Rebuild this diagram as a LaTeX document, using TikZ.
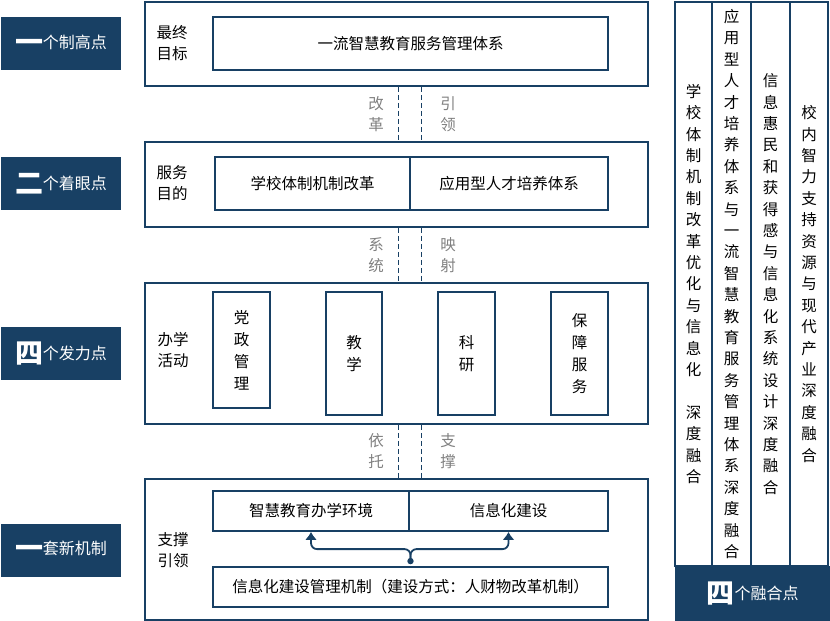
\documentclass[tikz,border=0pt]{standalone}
\usepackage{fontspec}
\newfontfamily\cjk{Noto Sans CJK SC}
\usetikzlibrary{arrows.meta,calc}
\XeTeXlinebreaklocale "zh"
\XeTeXlinebreakskip=0pt plus 1pt
\definecolor{navy}{RGB}{24,64,100}
\definecolor{labelgray}{RGB}{128,128,128}
\newcommand{\bignum}[1]{\raisebox{-4pt}{\fontsize{28}{28}\selectfont\bfseries #1}}

\begin{document}
\begin{tikzpicture}[x=1pt, y=-1pt,
  badge/.style={fill=navy, text=white, minimum width=120pt, minimum height=53pt, inner sep=0pt, font=\cjk\fontsize{16}{16}\selectfont},
  panel/.style={draw=navy, line width=1.8pt, minimum width=503pt, inner sep=0pt},
  item/.style={draw=navy, line width=1.8pt, inner sep=0pt, font=\cjk\fontsize{15.5}{22}\selectfont},
  upright/.style={text width=16pt, align=center},
  tag/.style={font=\cjk\fontsize{15.5}{21}\selectfont, align=left, inner sep=0pt},
  side/.style={font=\cjk\fontsize{15.5}{21}\selectfont, text=labelgray, align=center, inner sep=0pt},
  link/.style={draw=navy, line width=1.8pt, dash pattern=on 5pt off 3pt},
  column/.style={draw=navy, line width=1.8pt, minimum height=564pt, inner sep=0pt},
  coltext/.style={font=\cjk\fontsize{15.5}{21.4}\selectfont, text width=16pt, align=center, inner sep=0pt},
  flow/.style={draw=navy, line width=1.8pt, rounded corners=6pt, -{Latex[length=8pt,width=12pt]}}]
  \useasboundingbox (0,0) rectangle (830,621);

  \node[badge] (b1) at (61,43.5) {\bignum{一}个制高点};
  \node[badge] (b2) at (61,183.5) {\bignum{二}个着眼点};
  \node[badge] (b3) at (61,353.5) {\bignum{四}个发力点};
  \node[badge] (b4) at (61,550) {\bignum{一}套新机制};

  \node[panel, minimum height=84pt] (p1) at (396.5,44) {};
  \node[tag] (t1) at (172,43) {最终\\目标};
  \node[item, minimum width=395pt, minimum height=53pt] (goal) at (410.5,43.5) {一流智慧教育服务管理体系};

  \node[panel, minimum height=85pt] (p2) at (396.5,184.5) {};
  \node[tag] (t2) at (172,183.5) {服务\\目的};
  \node[item, minimum width=195pt, minimum height=53pt] (reform) at (312.5,183.5) {学校体制机制改革};
  \node[item, minimum width=198pt, minimum height=53pt] (talent) at (509,183.5) {应用型人才培养体系};

  \node[panel, minimum height=141pt] (p3) at (396.5,353.5) {};
  \node[tag] (t3) at (173,350) {办学\\活动};
  \node[item, upright, minimum width=57pt, minimum height=116pt] (party) at (241.5,350) {党政管理};
  \node[item, upright, minimum width=56pt, minimum height=123pt] (teach) at (354,353.5) {教学};
  \node[item, upright, minimum width=57pt, minimum height=123pt] (research) at (466.5,353.5) {科研};
  \node[item, upright, minimum width=57pt, minimum height=123pt] (support) at (579.5,353.5) {保障服务};

  \node[panel, minimum height=141pt] (p4) at (396.5,549.5) {};
  \node[tag] (t4) at (173,550) {支撑\\引领};
  \node[item, minimum width=196pt, minimum height=40pt] (env) at (311,511) {智慧教育办学环境};
  \node[item, minimum width=199pt, minimum height=40pt] (ict) at (508.5,511) {信息化建设};
  \node[item, minimum width=395pt, minimum height=40pt] (mech) at (410.5,587) {信息化建设管理机制（建设方式：人财物改革机制）};

  \coordinate (tail) at ($(mech.north)+(0,-5)$);
  \coordinate (fork) at ($(mech.north)+(0,-17)$);
  \draw[flow] (tail) -- (fork) -| (env.south);
  \draw[flow] (tail) -- (fork) -| (ict.south);
  \fill[navy] (tail) circle (3.2pt);

  \draw[link] ($(goal.south |- p1.south)+(-12,0)$) -- ($(goal.south |- p2.north)+(-12,0)$);
  \draw[link] ($(goal.south |- p1.south)+(11,0)$) -- ($(goal.south |- p2.north)+(11,0)$);
  \draw[link] ($(goal.south |- p2.south)+(-12,0)$) -- ($(goal.south |- p3.north)+(-12,0)$);
  \draw[link] ($(goal.south |- p2.south)+(11,0)$) -- ($(goal.south |- p3.north)+(11,0)$);
  \draw[link] ($(goal.south |- p3.south)+(-12,0)$) -- ($(goal.south |- p4.north)+(-12,0)$);
  \draw[link] ($(goal.south |- p3.south)+(11,0)$) -- ($(goal.south |- p4.north)+(11,0)$);
  \node[side] (s1) at (376,114) {改\\革};
  \node[side] (s2) at (448,114) {引\\领};
  \node[side] (s3) at (376,255) {系\\统};
  \node[side] (s4) at (448,255) {映\\射};
  \node[side] (s5) at (376,451.5) {依\\托};
  \node[side] (s6) at (448,451.5) {支\\撑};

  \node[column, minimum width=37pt] (c1) at (693.5,284) {};
  \node[column, minimum width=39pt] (c2) at (731.5,284) {};
  \node[column, minimum width=39pt] (c3) at (770.5,284) {};
  \node[column, minimum width=38pt] (c4) at (809,284) {};
  \node[coltext] at (c1) {学校体制机制改革优化与信息化\\[21.4pt]深度融合};
  \node[coltext] at (c2) {应用型人才培养体系与一流智慧教育服务管理体系深度融合};
  \node[coltext] at (c3) {信息惠民和获得感与信息化系统设计深度融合};
  \node[coltext] at (c4) {校内智力支持资源与现代产业深度融合};
  \node[badge, minimum width=155pt, minimum height=55pt] (b5) at (752.5,593.5) {\bignum{四}个融合点};
\end{tikzpicture}
\end{document}
